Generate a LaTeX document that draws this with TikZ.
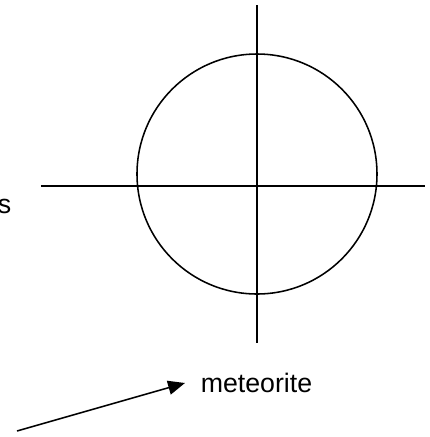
\documentclass[tikz,border=0pt]{standalone}
\usepackage{fontspec}
\setmainfont{Liberation Sans}
\usetikzlibrary{arrows.meta,positioning}

\begin{document}
\begin{tikzpicture}[x=0.025cm, y=-0.025cm, line width=1.1pt,
    every node/.style={font=\fontsize{19}{23}\selectfont, inner sep=0pt},
    axis/.style={line cap=butt},
    hit/.style={-{Triangle[length=12pt,width=10pt]}}]
  \useasboundingbox (0,0) rectangle (430,437);
  % the body and its two axes
  \node[circle,draw,minimum size=240*0.025cm] (body) at (257,174) {};
  \coordinate (west) at (41,186);
  \coordinate (east) at (425,186);
  \coordinate (north) at (257,5);
  \coordinate (south) at (257,343);
  \draw[axis] (west) -- (east);
  \draw[axis] (north) -- (south);
  % labels
  \node[anchor=base east] (cut) at (12,213) {s};
  \node[anchor=base west] (met) at (200,392) {meteorite};
  \coordinate (tail) at (17,431);
  \coordinate (tip) at (185,383);
  \draw[hit] (tail) -- (tip);
\end{tikzpicture}
\end{document}
